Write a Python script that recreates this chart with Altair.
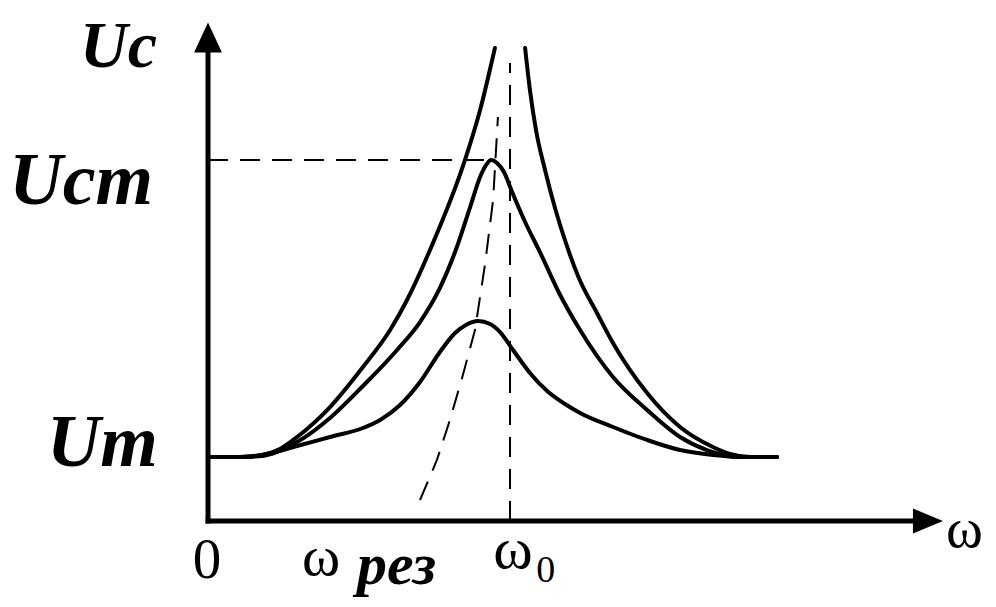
import altair as alt
import pandas as pd

# ---- data: x = omega/omega0, y = Uc/Um (schematic units) ----
outer_left_w = [0.000, 0.106, 0.179, 0.238, 0.295, 0.404, 0.513, 0.603, 0.659, 0.735, 0.851, 0.901, 0.950]
outer_left_u = [1.000, 1.000, 1.031, 1.125, 1.313, 1.781, 2.406, 2.984, 3.453, 4.234, 5.641, 6.422, 7.391]
outer_right_w = [1.050, 1.066, 1.086, 1.116, 1.149, 1.185, 1.228, 1.288, 1.341, 1.454, 1.563, 1.672, 1.728, 1.795, 1.884]
outer_right_u = [7.391, 6.734, 6.109, 5.484, 4.891, 4.344, 3.797, 3.250, 2.781, 2.000, 1.469, 1.156, 1.047, 1.000, 1.000]

middle_w = [0.000, 0.106, 0.179, 0.295, 0.404, 0.513, 0.626, 0.702, 0.768, 0.818, 0.868, 0.901, 0.921, 0.937,
            0.957, 0.980, 1.007, 1.050, 1.099, 1.166, 1.232, 1.341, 1.454, 1.563, 1.652, 1.762, 1.884]
middle_u = [1.000, 1.000, 1.016, 1.234, 1.609, 2.109, 2.672, 3.109, 3.641, 4.203, 4.906, 5.375, 5.563, 5.640,
            5.594, 5.453, 5.141, 4.672, 4.203, 3.531, 2.984, 2.250, 1.734, 1.313, 1.109, 1.000, 1.000]

inner_w = [0.000, 0.106, 0.179, 0.295, 0.404, 0.513, 0.570, 0.636, 0.702, 0.768, 0.818, 0.854, 0.894,
           0.934, 0.967, 1.010, 1.066, 1.123, 1.182, 1.232, 1.341, 1.454, 1.563, 1.672, 1.762, 1.884]
inner_u = [1.000, 1.000, 1.031, 1.172, 1.313, 1.453, 1.578, 1.812, 2.172, 2.641, 2.938, 3.063, 3.125,
           3.078, 2.953, 2.672, 2.313, 2.031, 1.828, 1.688, 1.469, 1.266, 1.109, 1.031, 1.000, 1.000]

# locus of resonance peaks (dashed)
locus_w = [0.702, 0.758, 0.801, 0.844, 0.884, 0.917, 0.944, 0.960]
locus_u = [0.328, 0.953, 1.578, 2.281, 2.984, 4.000, 5.016, 6.313]

omega0 = 1.0
omega0_top = 7.156
Ucm = 5.640
Ucm_w = 0.937
Um = 1.0

# axes extents
x_axis_end = 2.36
y_axis_end = 7.35
x_arrow = 2.384
y_arrow = 7.555

# scale domains (layout)
x_domain = [-0.6623, 2.5828]
y_domain = [-1.2188, 8.0156]

xs = alt.Scale(domain=x_domain, nice=False, zero=False)
ys = alt.Scale(domain=y_domain, nice=False, zero=False)

def seg(name, w, u):
    return pd.DataFrame({"w": w, "u": u, "seg": name})

curves = pd.concat([
    seg("outer_left", outer_left_w, outer_left_u),
    seg("outer_right", outer_right_w, outer_right_u),
    seg("middle", middle_w, middle_u),
    seg("inner", inner_w, inner_u),
])

dashed = pd.concat([
    seg("locus", locus_w, locus_u),
    seg("w0", [omega0, omega0], [0.0, omega0_top]),
    seg("ucm", [0.0, Ucm_w], [Ucm, Ucm]),
])

X = lambda f: alt.X(f, type="quantitative", scale=xs, axis=None)
Y = lambda f: alt.Y(f, type="quantitative", scale=ys, axis=None)

curve_layer = alt.Chart(curves).mark_line(
    interpolate="monotone", strokeWidth=4, color="black", strokeCap="round"
).encode(x=X("w"), y=Y("u"), detail="seg:N")

dash_layer = alt.Chart(dashed).mark_line(
    strokeWidth=2, color="black", strokeDash=[20, 12]
).encode(x=X("w"), y=Y("u"), detail="seg:N", order=alt.Order("u:Q"))

axes = pd.DataFrame({
    "w": [-0.008, 0.0],
    "u": [0.0, -0.04],
    "w2": [x_axis_end, 0.0],
    "u2": [0.0, y_axis_end],
})
axis_layer = alt.Chart(axes).mark_rule(strokeWidth=5, color="black").encode(
    x=X("w"), y=Y("u"), x2="w2:Q", y2="u2:Q"
)

arrow_up = alt.Chart(pd.DataFrame({"w": [0.0], "u": [y_arrow]})).mark_point(
    shape="M0,-1L0.93,1L-0.93,1Z", filled=True, size=900, color="black", opacity=1
).encode(x=X("w"), y=Y("u"))
arrow_right = alt.Chart(pd.DataFrame({"w": [x_arrow], "u": [0.0]})).mark_point(
    shape="M1,0L-1,-0.83L-1,0.83Z", filled=True, size=900, color="black", opacity=1
).encode(x=X("w"), y=Y("u"))

def labels(texts, ws, us, size, align, bold_italic):
    df = pd.DataFrame({"t": texts, "w": ws, "u": us})
    kw = dict(font="Liberation Serif", fontSize=size, align=align, baseline="alphabetic", color="black")
    if bold_italic:
        kw.update(fontWeight="bold", fontStyle="italic")
    return alt.Chart(df).mark_text(**kw).encode(x=X("w"), y=Y("u"), text="t:N")

lab_uc = labels(["Uc"], [-0.169], [7.094], 66, "right", True)
lab_u = labels(["Ucm", "Um"], [-0.182, -0.166], [4.953, 0.859], 74, "right", True)
lab_zero = labels(["0"], [-0.003], [-0.891], 57, "center", False)
lab_omega = labels(["ω"], [2.444], [-0.406], 56, "left", False)
lab_w0 = labels(["ω"], [1.01], [-0.734], 60, "center", False)
lab_w0_sub = labels(["0"], [1.087], [-0.953], 38, "left", False)
lab_wres = labels(["ω"], [0.311], [-0.844], 58, "left", False)
lab_res = labels(["рез"], [0.493], [-0.984], 60, "left", True)

chart = alt.layer(
    dash_layer, curve_layer, axis_layer, arrow_up, arrow_right,
    lab_uc, lab_u, lab_zero, lab_omega, lab_w0, lab_w0_sub, lab_wres, lab_res
).properties(
    width=980, height=591, padding=0,
    autosize=alt.AutoSizeParams(type="none"),
    background="white"
).configure_view(strokeWidth=0)

chart.save("out.html", embed_options={"renderer": "svg", "actions": False})
